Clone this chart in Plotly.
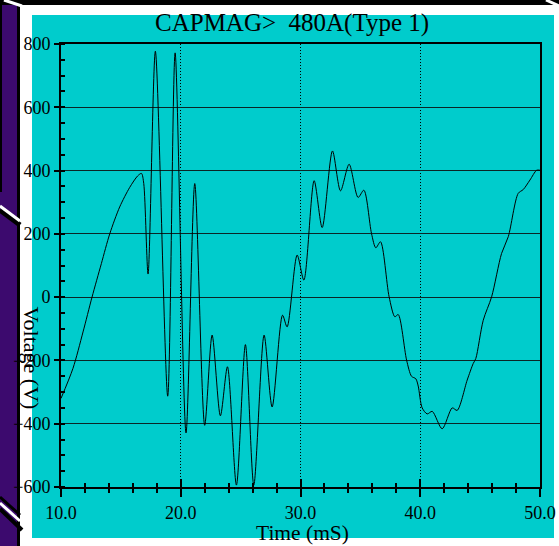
import plotly.graph_objects as go

# ---- data ----
time_ms = [10.0, 11.0, 11.84, 12.59, 13.37, 14.07, 14.90, 15.74, 16.4, 16.72, 16.91,
           17.27, 17.88, 18.91, 19.53, 20.44, 21.17, 22.0, 22.62, 23.31, 23.90,
           24.65, 25.40, 26.10, 26.96, 27.63, 28.50, 28.88, 29.72, 30.28, 31.14,
           31.81, 32.67, 33.34, 34.06, 34.81, 35.29, 35.93, 36.29, 36.68, 37.40,
           37.88, 38.16, 38.86, 39.27, 39.63, 39.83, 40.16, 40.58, 41.0, 41.83,
           42.67, 43.08, 43.92, 44.42, 44.64, 45.26, 45.96, 46.79, 47.35, 48.18,
           48.60, 49.16, 49.72, 50.0]
voltage_v = [-320, -225, -110, 0, 106, 200, 285, 347, 383, 391, 359,
             73, 777, -313, 772, -429, 359, -405, -120, -375, -220,
             -594, -150, -594, -120, -347, -57, -94, 133, 54, 368,
             220, 462, 336, 420, 315, 338, 201, 156, 175, 1,
             -62, -55, -199, -250, -258, -281, -350, -369, -361, -416,
             -350, -358, -262, -210, -194, -73, 1, 138, 191, 328,
             340, 370, 401, 401]

x_ticks = [10, 20, 30, 40, 50]
x_tick_labels = ["10.0", "20.0", "30.0", "40.0", "50.0"]
y_ticks = [-600, -400, -200, 0, 200, 400, 600, 800]

title_text = "CAPMAG>\u00a0\u00a0480A(Type 1)"
x_title = "Time (mS)"
y_title = "Voltage (V)"

# ---- geometry helpers (pixels -> paper) ----
W, H = 559, 546
ML, MR, MT, MB = 61, 19, 44, 59
PW, PH = W - ML - MR, H - MT - MB


def xp(px):
    return (px - ML) / PW


def yp(py):
    return (H - MB - py) / PH


FONT = "Liberation Serif, Times New Roman, serif"
CYAN = "#00cccc"
PURPLE = "#3c0a6e"

fig = go.Figure()
fig.add_trace(go.Scatter(
    x=time_ms, y=voltage_v, mode="lines",
    line=dict(color="black", width=1, shape="spline", smoothing=0.8),
    showlegend=False, hoverinfo="skip"))
# dummy trace so the overlay axis (inner half of the crossing ticks) is drawn
fig.add_trace(go.Scatter(x=[10], y=[None], xaxis="x2", mode="lines",
                         showlegend=False, hoverinfo="skip"))

shapes = []


def rect(x0, y0, x1, y1, color):
    shapes.append(dict(type="rect", xref="paper", yref="paper",
                       x0=xp(x0), x1=xp(x1), y0=yp(y1), y1=yp(y0),
                       fillcolor=color, line=dict(width=0), layer="below"))


def seg(x0, y0, x1, y1, color, width):
    shapes.append(dict(type="line", xref="paper", yref="paper",
                       x0=xp(x0), x1=xp(x1), y0=yp(y0), y1=yp(y1),
                       line=dict(color=color, width=width), layer="below"))


# background decorations
rect(0, 0, 17, H, PURPLE)
rect(0, 0, 2, 192, "black")
rect(17, 0, 20, H, "black")
rect(0, 0, W, 5, "black")
seg(0, 210, 20, 225, "black", 5)
seg(0, 206, 20, 221, "white", 3)
seg(0, 497, 20, 515, "black", 3)
seg(0, 503, 20, 521, "white", 3)
seg(0, 509, 22, 530, "black", 4)
seg(4, 0, 22, 6, "white", 3)
seg(546, 0, 559, 6, "white", 3)
rect(32, 15, 554, 538, CYAN)

fig.update_layout(
    width=W, height=H, autosize=False,
    margin=dict(l=ML, r=MR, t=MT, b=MB, pad=0, autoexpand=False),
    paper_bgcolor="white", plot_bgcolor=CYAN,
    shapes=shapes,
    font=dict(family=FONT, color="black", size=18),
    xaxis=dict(
        range=[10, 50], tickvals=x_ticks, ticktext=x_tick_labels,
        automargin=False,
        showgrid=True, gridcolor="black", gridwidth=1, griddash="1px,2px",
        showline=True, linecolor="black", linewidth=2, mirror=True,
        ticks="outside", ticklen=8, tickwidth=1.5, tickcolor="black",
        minor=dict(dtick=2, ticks="outside", ticklen=4, tickwidth=1.5,
                   tickcolor="black", showgrid=False),
        zeroline=False, tickfont=dict(family=FONT, size=18, color="black"),
    ),
    xaxis2=dict(
        range=[10, 50], overlaying="x", anchor="y", side="bottom",
        automargin=False,
        tickvals=x_ticks, showticklabels=False, showgrid=False, showline=False,
        ticks="inside", ticklen=8, tickwidth=1.5, tickcolor="black",
        minor=dict(dtick=2, ticks="inside", ticklen=4, tickwidth=1.5,
                   tickcolor="black", showgrid=False),
        zeroline=False,
    ),
    yaxis=dict(
        range=[-600, 800], tickvals=y_ticks, automargin=False,
        showgrid=True, gridcolor="#0a2626", gridwidth=1.3,
        showline=True, linecolor="black", linewidth=2, mirror=True,
        ticks="outside", ticklen=5, tickwidth=1.5, tickcolor="black",
        minor=dict(dtick=50, ticks="inside", ticklen=4, tickwidth=1.5,
                   tickcolor="black", showgrid=False),
        zeroline=False, tickfont=dict(family=FONT, size=18, color="black"),
    ),
    annotations=[
        dict(text=title_text, xref="paper", yref="paper",
             x=xp(292), y=yp(23), xanchor="center", yanchor="middle",
             showarrow=False, font=dict(family=FONT, size=25, color="black")),
        dict(text=x_title, xref="paper", yref="paper",
             x=xp(302), y=yp(533), xanchor="center", yanchor="middle",
             showarrow=False, font=dict(family=FONT, size=21.5, color="black")),
        dict(text=y_title, xref="paper", yref="paper",
             x=xp(31.5), y=yp(358), xanchor="center", yanchor="middle",
             textangle=90, showarrow=False,
             font=dict(family=FONT, size=22, color="black")),
    ],
)

fig.write_html(
    "out.html",
    config={"responsive": False, "displayModeBar": False},
    post_script="document.body.style.margin='0';"
                "document.body.style.padding='0';"
                "document.body.style.overflow='hidden';",
)
